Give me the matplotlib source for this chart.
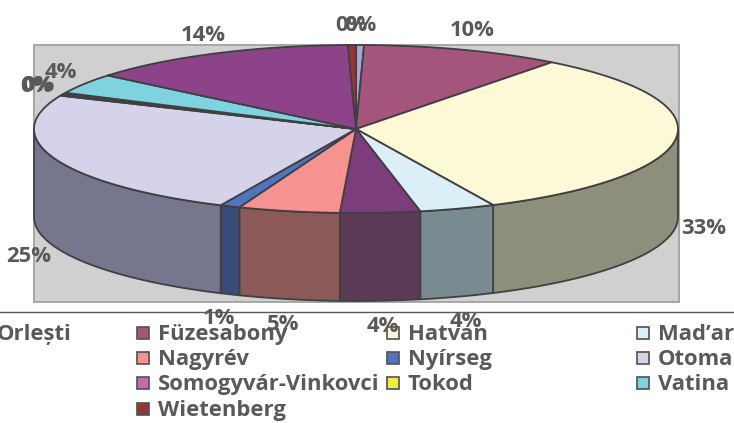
#!/usr/bin/env python3
"""Excel-style 3D pie of culture shares, redrawn with matplotlib."""

import matplotlib

matplotlib.use("Agg")
import matplotlib.pyplot as plt
import numpy as np
from matplotlib.patches import Polygon, Rectangle

# slices in drawing order (clockwise from 12 o'clock); blank names are
# legend entries whose text falls outside the picture
CATEGORIES = [
    "Orlești", "Füzesabony", "Hatvan", "Mad’ar", "", "Nagyrév", "Nyírseg",
    "Otoma", "", "Somogyvár-Vinkovci", "Tokod", "Vatina", "", "Wietenberg",
]
SHARES = [0.4, 10.0, 32.6, 3.8, 4.0, 5.1, 1.0, 24.6, 0.3, 0.0, 0.3, 3.9, 13.6, 0.4]

TOP_COLORS = [
    "#A3A6D8", "#A5547B", "#FDF9D6", "#DAEFF6", "#7D3C7C", "#F69391", "#5075C0",
    "#D5D3EA", "#35357F", "#C36BB0", "#F2EE3E", "#7FD3E0", "#8C438A", "#943634",
]
SIDE_COLORS = [
    "#5A5C78", "#5C2F44", "#8E8F7A", "#788B91", "#5B3A55", "#8B5A58", "#3A4B77",
    "#76768F", "#1E1E48", "#6C3B62", "#878422", "#47757C", "#4E254D", "#521E1D",
]

FONT = ["Open Sans", "DejaVu Sans"]
FS = 15.8
C_TEXT = "#595959"
C_EDGE = "#404040"

# geometry in pixels
W, H = 734, 423
CX, CY = 356, 129
RX, RY = 322, 84
DEPTH = 88


def rim(theta):
    t = np.radians(theta)
    return CX + RX * np.sin(t), CY - RY * np.cos(t)


def main():
    fig = plt.figure(figsize=(W / 100, H / 100), dpi=100)
    ax = fig.add_axes([0, 0, 1, 1])
    ax.set_xlim(0, W)
    ax.set_ylim(H, 0)
    ax.axis("off")

    # plot area
    ax.add_patch(Rectangle((34, 45), 645, 257, facecolor="#D0D0D1",
                           edgecolor="#A6A6A6", lw=1.4, zorder=1))
    ax.plot([0, W], [312, 312], color=C_TEXT, lw=1.0, zorder=1)

    bounds = np.concatenate([[0], np.cumsum(SHARES)]) / sum(SHARES) * 360

    # outer walls (front half only)
    for i in range(len(SHARES)):
        lo, hi = max(bounds[i], 90), min(bounds[i + 1], 270)
        if hi <= lo:
            continue
        ts = np.linspace(lo, hi, 80)
        xs, ys = rim(ts)
        pts = np.column_stack([np.r_[xs, xs[::-1]], np.r_[ys, ys[::-1] + DEPTH]])
        ax.add_patch(Polygon(pts, closed=True, facecolor=SIDE_COLORS[i],
                             edgecolor=C_EDGE, lw=1.3, joinstyle="round", zorder=2))

    # top faces
    for i in range(len(SHARES)):
        if bounds[i + 1] <= bounds[i]:
            continue
        ts = np.linspace(bounds[i], bounds[i + 1], 120)
        xs, ys = rim(ts)
        pts = np.column_stack([np.r_[CX, xs], np.r_[CY, ys]])
        ax.add_patch(Polygon(pts, closed=True, facecolor=TOP_COLORS[i],
                             edgecolor=C_EDGE, lw=1.3, joinstyle="round", zorder=3))

    # percentage labels (outside end; front ones sit below the wall)
    for i, v in enumerate(SHARES):
        mid = np.radians((bounds[i] + bounds[i + 1]) / 2)
        c = np.cos(mid)
        lx = CX + 350 * np.sin(mid)
        ly = CY - 104 * c if c >= 0 else CY + DEPTH - 110 * c
        ax.text(lx, ly, f"{round(v)}%", ha="center", va="center", fontsize=FS,
                fontweight="bold", color=C_TEXT, family=FONT, zorder=5)

    # legend, 4 columns row-major (first column mostly off the picture)
    text_x = [-3, 158, 408, 658]
    for i, name in enumerate(CATEGORIES):
        row, col = divmod(i, 4)
        base = 340 + row * 25.2
        tx = text_x[col]
        if col > 0:
            ax.add_patch(Rectangle((tx - 21, base - 13), 12, 12,
                                   facecolor=TOP_COLORS[i], edgecolor="#505050",
                                   lw=1.2, zorder=4))
        ax.text(tx, base, name, ha="left", va="baseline", fontsize=FS,
                fontweight="bold", color=C_TEXT, family=FONT, zorder=5)

    fig.savefig("out.png", dpi=100)
    plt.close(fig)


if __name__ == "__main__":
    main()
